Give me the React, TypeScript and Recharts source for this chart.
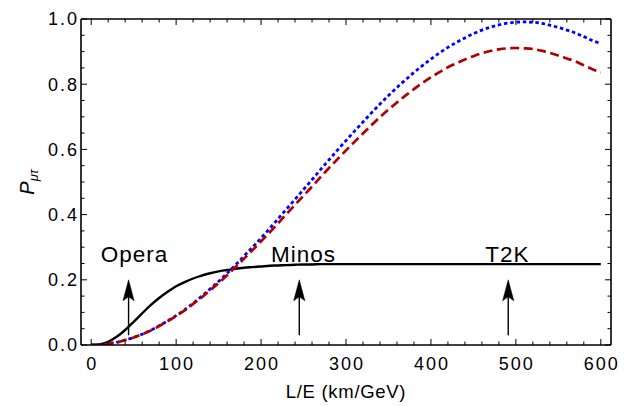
import React from 'react';
import { LineChart, Line, XAxis, YAxis, ReferenceLine, ReferenceDot } from 'recharts';

const LE = [0, 10, 20, 30, 40, 50, 60, 70, 80, 90, 100, 110, 120, 130, 140, 150, 160, 170, 180, 190, 200,
  210, 220, 230, 240, 250, 260, 270, 280, 290, 300, 310, 320, 330, 340, 350, 360, 370, 380, 390, 400,
  410, 420, 430, 440, 450, 460, 470, 480, 490, 500, 510, 520, 530, 540, 550, 560, 570, 580, 590, 600];

const P_BLACK = [0, 0.002, 0.010, 0.025, 0.046, 0.071, 0.097, 0.122, 0.144, 0.163, 0.180,
  0.193, 0.204, 0.213, 0.220, 0.226, 0.230, 0.234, 0.237, 0.239, 0.241,
  0.243, 0.244, 0.245, 0.246, 0.247, 0.247, 0.248, 0.248, 0.248, 0.248,
  0.248, 0.248, 0.248, 0.248, 0.248, 0.248, 0.248, 0.248, 0.248, 0.248,
  0.248, 0.248, 0.248, 0.248, 0.248, 0.248, 0.248, 0.248, 0.248, 0.248,
  0.248, 0.248, 0.248, 0.248, 0.248, 0.248, 0.248, 0.248, 0.248, 0.248];

const P_BLUE = [0, 0.001, 0.004, 0.008, 0.015, 0.023, 0.033, 0.045, 0.059, 0.074, 0.090,
  0.108, 0.128, 0.149, 0.172, 0.195, 0.220, 0.246, 0.273, 0.300, 0.328,
  0.357, 0.387, 0.417, 0.447, 0.477, 0.507, 0.538, 0.568, 0.598, 0.627,
  0.656, 0.684, 0.712, 0.739, 0.765, 0.790, 0.813, 0.836, 0.857, 0.877,
  0.896, 0.913, 0.928, 0.942, 0.955, 0.966, 0.975, 0.982, 0.987, 0.990,
  0.991, 0.990, 0.987, 0.981, 0.974, 0.966, 0.957, 0.946, 0.934, 0.925];

const P_RED = [0, 0.001, 0.004, 0.008, 0.015, 0.023, 0.033, 0.044, 0.058, 0.073, 0.089,
  0.106, 0.126, 0.146, 0.168, 0.190, 0.214, 0.239, 0.265, 0.291, 0.318,
  0.345, 0.373, 0.402, 0.430, 0.458, 0.486, 0.515, 0.543, 0.570, 0.597,
  0.623, 0.649, 0.674, 0.699, 0.722, 0.744, 0.765, 0.785, 0.804, 0.821,
  0.837, 0.852, 0.864, 0.876, 0.886, 0.895, 0.902, 0.907, 0.910, 0.911,
  0.910, 0.908, 0.903, 0.896, 0.888, 0.879, 0.870, 0.858, 0.846, 0.836];

const EXPERIMENTS = ['Opera', 'Minos', 'T2K'];
const EXP_LE = [44, 245, 491];
const EXP_LABEL_LE = [51, 250, 490];
const EXP_LABEL_P = 0.255;
const ARROW_FROM = 0.03;
const ARROW_TO = 0.2;

const X_TICKS = [0, 20, 40, 60, 80, 100, 120, 140, 160, 180, 200, 220, 240, 260, 280, 300,
  320, 340, 360, 380, 400, 420, 440, 460, 480, 500, 520, 540, 560, 580, 600];
const X_LABELS = [0, 100, 200, 300, 400, 500, 600];
const Y_TICKS = [0, 0.05, 0.1, 0.15, 0.2, 0.25, 0.3, 0.35, 0.4, 0.45, 0.5, 0.55, 0.6, 0.65, 0.7,
  0.75, 0.8, 0.85, 0.9, 0.95, 1.0];
const Y_LABELS = [0, 0.2, 0.4, 0.6, 0.8, 1.0];

const data = LE.map((le, i) => ({ le, black: P_BLACK[i], blue: P_BLUE[i], red: P_RED[i] }));

const FONT = '"Liberation Sans", Arial, Helvetica, sans-serif';
const MAJ = 6;
const MIN = 3.5;

const isXLabel = (v: number) => X_LABELS.some((l) => Math.abs(l - v) < 1e-9);
const isYLabel = (v: number) => Y_LABELS.some((l) => Math.abs(l - v) < 1e-9);

const BottomTick = (props: any) => {
  const { x, y, payload } = props;
  const v = payload.value;
  const major = isXLabel(v);
  return (
    <g>
      <line x1={x} y1={y} x2={x} y2={y - (major ? MAJ : MIN)} stroke="#000" strokeWidth={1} />
      {major && (
        <text x={x + 1} y={y + 24.5} textAnchor="middle" fontFamily={FONT} fontSize={18} letterSpacing={2} fill="#000">
          {String(v)}
        </text>
      )}
    </g>
  );
};

const TopTick = (props: any) => {
  const { x, y, payload } = props;
  const major = isXLabel(payload.value);
  return <line x1={x} y1={y} x2={x} y2={y + (major ? MAJ : MIN)} stroke="#000" strokeWidth={1} />;
};

const LeftTick = (props: any) => {
  const { x, y, payload } = props;
  const v = payload.value;
  const major = isYLabel(v);
  return (
    <g>
      <line x1={x} y1={y} x2={x + (major ? MAJ : MIN)} y2={y} stroke="#000" strokeWidth={1} />
      {major && (
        <text x={x - 2} y={y + 6.3} textAnchor="end" fontFamily={FONT} fontSize={18} letterSpacing={2} fill="#000">
          {v.toFixed(1)}
        </text>
      )}
    </g>
  );
};

const RightTick = (props: any) => {
  const { x, y, payload } = props;
  const major = isYLabel(payload.value);
  return <line x1={x} y1={y} x2={x - (major ? MAJ : MIN)} y2={y} stroke="#000" strokeWidth={1} />;
};

const XTitle = (props: any) => {
  const vb = props.viewBox || { x: 81, y: 345, width: 530, height: 61 };
  return (
    <text x={vb.x + vb.width / 2} y={vb.y + 53} textAnchor="middle" fontFamily={FONT} fontSize={18.5} letterSpacing={0.7} fill="#000">
      L/E (km/GeV)
    </text>
  );
};

const YTitle = (props: any) => {
  const vb = props.viewBox || { x: 0, y: 19, width: 81, height: 326 };
  const cx = 34;
  const cy = vb.y + vb.height / 2;
  return (
    <text x={cx} y={cy} transform={`rotate(-90, ${cx}, ${cy})`} textAnchor="middle" fontFamily={FONT} fontStyle="italic" fill="#000">
      <tspan fontSize={20}>P</tspan>
      <tspan fontSize={13} dy={4}>μτ</tspan>
    </text>
  );
};

const ArrowShape = (p: any) => {
  const { x1, y1, x2, y2 } = p;
  const head = `${x2},${y2} ${x2 - 5.6},${y2 + 21} ${x2},${y2 + 17} ${x2 + 5.6},${y2 + 21}`;
  return (
    <g>
      <line x1={x1} y1={y1} x2={x2} y2={y2 + 16} stroke="#000" strokeWidth={1.4} />
      <polygon points={head} fill="#000" stroke="#000" strokeWidth={0.5} />
    </g>
  );
};

const makeLabel = (txt: string) => (p: any) => (
  <text x={p.cx} y={p.cy} textAnchor="middle" fontFamily={FONT} fontSize={22.5} letterSpacing={1} fill="#000">
    {txt}
  </text>
);

export default function App() {
  return (
    <div style={{ position: 'absolute', left: 0, top: 0, width: 634, height: 406, background: '#fff' }}>
      <LineChart width={634} height={406} data={data} margin={{ top: 0, right: 0, bottom: 0, left: 0 }}>
        <XAxis
          xAxisId="b"
          dataKey="le"
          type="number"
          domain={[-12, 612]}
          allowDataOverflow
          ticks={X_TICKS}
          interval={0}
          height={61}
          tickSize={0}
          tickMargin={0}
          tickLine={false}
          axisLine={{ stroke: '#000', strokeWidth: 1.6 }}
          tick={<BottomTick />}
          label={<XTitle />}
        />
        <XAxis
          xAxisId="t"
          orientation="top"
          dataKey="le"
          type="number"
          domain={[-12, 612]}
          allowDataOverflow
          ticks={X_TICKS}
          interval={0}
          height={19}
          tickSize={0}
          tickMargin={0}
          tickLine={false}
          axisLine={{ stroke: '#000', strokeWidth: 1.6 }}
          tick={<TopTick />}
        />
        <YAxis
          yAxisId="l"
          type="number"
          domain={[0, 1]}
          allowDataOverflow
          ticks={Y_TICKS}
          interval={0}
          width={81}
          tickSize={0}
          tickMargin={0}
          tickLine={false}
          axisLine={{ stroke: '#000', strokeWidth: 1.6 }}
          tick={<LeftTick />}
          label={<YTitle />}
        />
        <YAxis
          yAxisId="r"
          orientation="right"
          type="number"
          domain={[0, 1]}
          allowDataOverflow
          ticks={Y_TICKS}
          interval={0}
          width={23}
          tickSize={0}
          tickMargin={0}
          tickLine={false}
          axisLine={{ stroke: '#000', strokeWidth: 1.6 }}
          tick={<RightTick />}
        />
        <Line xAxisId="b" yAxisId="l" type="monotone" dataKey="black" stroke="#000" strokeWidth={2.4} dot={false} isAnimationActive={false} />
        <Line xAxisId="b" yAxisId="l" type="monotone" dataKey="blue" stroke="#0000ff" strokeWidth={2.8} strokeDasharray="3.5 2.8" dot={false} isAnimationActive={false} />
        <Line xAxisId="b" yAxisId="l" type="monotone" dataKey="red" stroke="#b20000" strokeWidth={2.7} strokeDasharray="9 4.5" dot={false} isAnimationActive={false} />
        {EXPERIMENTS.map((name, i) => (
          <ReferenceLine
            key={`arrow-${name}`}
            xAxisId="b"
            yAxisId="l"
            segment={[{ x: EXP_LE[i], y: ARROW_FROM }, { x: EXP_LE[i], y: ARROW_TO }]}
            stroke="#000"
            shape={ArrowShape}
          />
        ))}
        {EXPERIMENTS.map((name, i) => (
          <ReferenceDot
            key={`label-${name}`}
            xAxisId="b"
            yAxisId="l"
            x={EXP_LABEL_LE[i]}
            y={EXP_LABEL_P}
            r={0}
            shape={makeLabel(name)}
          />
        ))}
      </LineChart>
    </div>
  );
}
